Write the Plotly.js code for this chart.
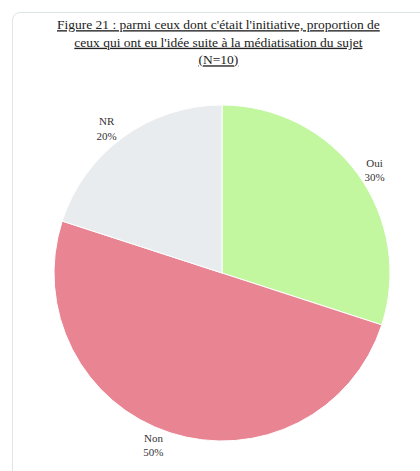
<!DOCTYPE html>
<html>
<head>
<meta charset="utf-8">
<script src="https://cdn.plot.ly/plotly-3.0.1.min.js"></script>
<style>
  html, body { margin: 0; padding: 0; background: #ffffff; overflow: hidden; }
  #card { position: absolute; left: 12px; top: 12px; width: 440px; height: 490px;
          border: 1px solid #dfe5e5; border-radius: 8px; background: #fff; }
  #chart { position: absolute; left: 0; top: 0; width: 420px; height: 471px; }
</style>
</head>
<body>
<div id="card"></div>
<div id="chart"></div>
<script>
const categories = ["Oui", "Non", "NR"];
const values = [3, 5, 2];
const colors = ["#c2f7a0", "#e98493", "#e8ecee"];
const titleText = "<u>Figure 21 : parmi ceux dont c'était l'initiative, proportion de</u><br><u>ceux qui ont eu l'idée suite à la médiatisation du sujet</u><br><u>(N=10)</u>";

const trace = {
  type: "pie",
  labels: categories,
  values: values,
  sort: false,
  direction: "clockwise",
  rotation: 0,
  marker: { colors: colors, line: { color: "#ffffff", width: 1 } },
  textposition: "outside",
  texttemplate: "%{label}<br>%{percent:.0%}",
  textfont: { family: "Liberation Serif, Times New Roman, serif", size: 11, color: "#333333" },
  hoverinfo: "none",
  showlegend: false
};

const layout = {
  width: 420,
  height: 471,
  margin: { l: 54, r: 30, t: 105, b: 30 },
  paper_bgcolor: "rgba(0,0,0,0)",
  plot_bgcolor: "rgba(0,0,0,0)",
  title: {
    text: titleText,
    font: { family: "Liberation Serif, Times New Roman, serif", size: 13.5, color: "#222222" },
    x: 0.52, xanchor: "center",
    y: 0.938, yanchor: "top"
  },
  showlegend: false
};

Plotly.newPlot("chart", [trace], layout, { staticPlot: true, displayModeBar: false });
</script>
</body>
</html>
